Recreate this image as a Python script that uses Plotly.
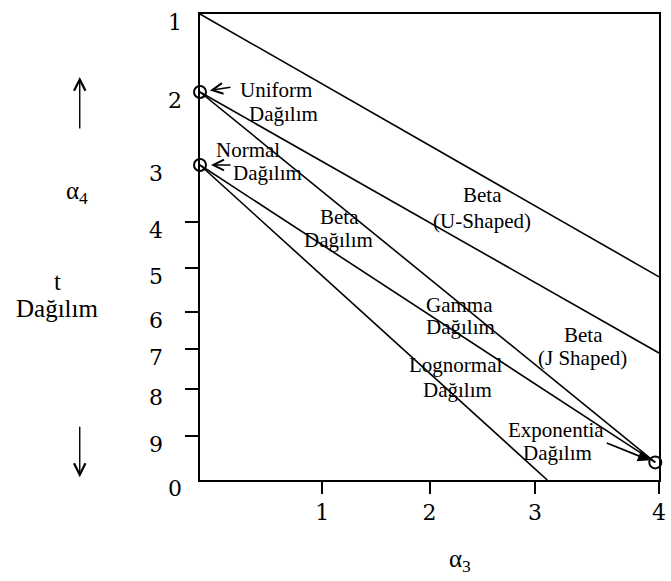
import numpy as np
import plotly.graph_objects as go

# ---- Pearson-type (alpha3, alpha4) chart values ----
A3_TICKS = [0, 1, 2, 3, 4]
A3_TICK_TEXT = ["1", "2", "3", "4"]
A4_TICKS = [1, 2, 3, 4, 5, 6, 7, 8, 9, 10]
A4_TICK_TEXT = ["1", "2", "3", "4", "5", "6", "7", "8", "9", "0"]

# boundary lines, (alpha3, alpha4) end points
IMPOSSIBLE_A3 = [0, 4]
IMPOSSIBLE_A4 = [1, 5.2]
BETA_UJ_A3 = [0, 4]
BETA_UJ_A4 = [2, 7.1]
BETA_UPPER_A3 = [0, 3.97]
BETA_UPPER_A4 = [2, 9.6]
GAMMA_A3 = [0, 3.97]
GAMMA_A4 = [3, 9.6]
LOGNORMAL_A3 = [0, 3.1]
LOGNORMAL_A4 = [3, 10]

# single-point distributions
POINT_NAMES = ["Uniform", "Normal", "Exponential"]
POINT_A3 = [0, 0, 3.97]
POINT_A4 = [2, 3, 9.6]

# region / curve labels
LABEL_TEXT = ["Uniform", "Dağılım", "Normal", "Dağılım", "Beta", "Dağılım",
              "Beta", "(U-Shaped)", "Gamma", "Dağılım", "Beta", "(J Shaped)",
              "Lognormal", "Dağılım", "Exponentia", "Dağılım"]
LABEL_A3 = [0.62, 0.68, 0.39, 0.55, 1.16, 1.15, 2.50, 2.50, 2.28, 2.29,
            3.39, 3.38, 2.25, 2.27, 3.17, 3.18]
LABEL_A4 = [1.97, 2.30, 2.79, 3.14, 3.91, 4.39, 3.53, 3.98, 5.84, 6.41,
            6.62, 7.23, 7.40, 8.02, 8.87, 9.39]

# ---- hand-ruled axes: where each tick sits along its axis (layout units) ----
A3_RULER = [0, 124, 233, 340, 466]
A4_RULER = [0, 78, 151, 208, 254, 298, 335, 375, 422, 466]


def ax3(v):
    return np.interp(v, A3_TICKS, A3_RULER)


def ax4(v):
    return np.interp(v, A4_TICKS, A4_RULER)


SERIF = '"Liberation Serif", "Times New Roman", serif'
TICKFONT = dict(family='"DejaVu Serif", serif', size=22, color="black")
LABELFONT = dict(family=SERIF, size=21, color="black")
SIDEFONT = dict(family=SERIF, size=25, color="black")
LINE = dict(color="black", width=1.6)

fig = go.Figure()

for xs, ys in [(IMPOSSIBLE_A3, IMPOSSIBLE_A4), (BETA_UJ_A3, BETA_UJ_A4),
               (BETA_UPPER_A3, BETA_UPPER_A4), (GAMMA_A3, GAMMA_A4),
               (LOGNORMAL_A3, LOGNORMAL_A4)]:
    fig.add_trace(go.Scatter(x=ax3(xs), y=ax4(ys), mode="lines", line=LINE,
                             hoverinfo="skip", showlegend=False))

fig.add_trace(go.Scatter(
    x=ax3(POINT_A3), y=ax4(POINT_A4), mode="markers", text=POINT_NAMES,
    marker=dict(symbol="circle-open", size=12, color="black",
                line=dict(width=2, color="black")),
    cliponaxis=False, showlegend=False))

annotations = []
for t, a3, a4 in zip(LABEL_TEXT, LABEL_A3, LABEL_A4):
    annotations.append(dict(x=float(ax3(a3)), y=float(ax4(a4)), xref="x", yref="y",
                            text=t, showarrow=False, font=LABELFONT,
                            xanchor="center", yanchor="middle"))

# alpha4 tick labels, set a little below each tick
for v, t in zip(A4_TICKS, A4_TICK_TEXT):
    near = t in ("1", "2", "0")
    annotations.append(dict(x=0, y=float(ax4(v)), xref="x", yref="y", text=t,
                            showarrow=False, xshift=-25 if near else -44,
                            yshift=-8, font=TICKFONT,
                            xanchor="center", yanchor="middle"))

# arrows pointing at the single-point distributions
arrow = dict(showarrow=True, arrowhead=5, arrowsize=1.5, arrowwidth=1.4,
             arrowcolor="black", text="", xref="x", yref="y")
annotations.append(dict(arrow, x=float(ax3(POINT_A3[0])), y=float(ax4(POINT_A4[0])),
                        ax=32, ay=-5, standoff=10))
annotations.append(dict(arrow, x=float(ax3(POINT_A3[1])), y=float(ax4(POINT_A4[1])),
                        ax=32, ay=0, standoff=11))
annotations.append(dict(arrow, x=float(ax3(POINT_A3[2])), y=float(ax4(POINT_A4[2])),
                        ax=-50, ay=-20, standoff=6, arrowhead=2, arrowsize=1.3,
                        arrowwidth=1.8))

# left-hand axis legend
side_arrow = dict(xref="paper", yref="paper", text="", showarrow=True,
                  arrowhead=5, arrowsize=1.6, arrowwidth=1.4, arrowcolor="black", ax=0)
side_text = dict(xref="paper", yref="paper", showarrow=False, font=SIDEFONT,
                 xanchor="center", yanchor="middle")
annotations += [
    dict(side_arrow, x=-0.262, y=0.865, ay=53),
    dict(side_arrow, x=-0.262, y=0.006, ay=-52),
    dict(side_text, x=-0.268, y=0.617, text="α<sub>4</sub>"),
    dict(side_text, x=-0.311, y=0.425, text="t"),
    dict(side_text, x=-0.311, y=0.369, text="Dağılım"),
    dict(side_text, x=0.567, y=-0.172, text="α<sub>3</sub>"),
]

fig.update_layout(
    width=671, height=581,
    margin=dict(l=200, r=5, t=14, b=101),
    plot_bgcolor="white", paper_bgcolor="white",
    annotations=annotations,
    showlegend=False,
)
fig.update_xaxes(
    range=[A3_RULER[0], A3_RULER[-1]],
    tickvals=[float(v) for v in ax3(A3_TICKS[1:])], ticktext=A3_TICK_TEXT,
    ticks="outside", ticklen=12, tickwidth=1.5, tickcolor="black",
    tickfont=TICKFONT, showgrid=False, zeroline=False,
    showline=True, linecolor="black", linewidth=2, mirror=True,
)
fig.update_yaxes(
    range=[A4_RULER[-1], A4_RULER[0]],
    tickvals=[float(v) for v in ax4(A4_TICKS[3:9])],
    ticks="outside", ticklen=13, tickwidth=1.5, tickcolor="black",
    showticklabels=False, showgrid=False, zeroline=False,
    showline=True, linecolor="black", linewidth=2, mirror=True,
)

fig.write_html("out.html")
